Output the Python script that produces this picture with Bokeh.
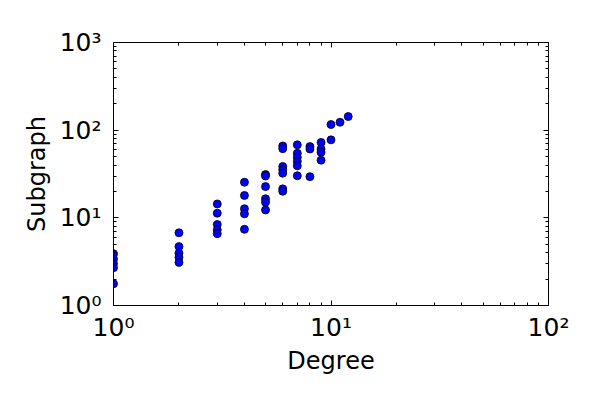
from bokeh.plotting import figure
from bokeh.models import LogAxis, FixedTicker, ColumnDataSource
from bokeh.embed import file_html
from bokeh.resources import INLINE

degree = [1, 1, 1, 1, 1,
          2, 2, 2, 2, 2,
          3, 3, 3, 3, 3,
          4, 4, 4, 4, 4,
          5, 5, 5, 5, 5, 5,
          6, 6, 6, 6, 6, 6, 6,
          7, 7, 7, 7, 7, 7,
          8, 8, 8,
          9, 9, 9, 9,
          10, 10, 11, 12]
subgraph = [3.9, 3.4, 3.0, 2.7, 1.77,
            6.75, 4.7, 3.95, 3.55, 3.1,
            14.4, 11.3, 8.4, 7.3, 6.6,
            25.5, 18.0, 12.7, 11.1, 7.4,
            31.2, 30.0, 22.7, 16.5, 15.1, 12.3,
            66.0, 61.5, 38.5, 35.3, 32.3, 21.4, 20.1,
            68.0, 54.5, 49.0, 44.0, 39.2, 30.2,
            65.0, 61.0, 29.5,
            72.5, 61.0, 56.0, 45.5,
            116.0, 77.5, 123.0, 143.0]

major_x = [1, 10, 100]
major_y = [1, 10, 100, 1000]
tick_labels_x = {1: "10⁰", 10: "10¹", 100: "10²"}
tick_labels_y = {1: "10⁰", 10: "10¹", 100: "10²", 1000: "10³"}

minor_x = [m * d for d in [1, 10] for m in range(2, 10)]
minor_y = [m * d for d in [1, 10, 100] for m in range(2, 10)]

FONT = "DejaVu Sans"

p = figure(x_axis_type="log", y_axis_type="log",
           x_range=(1, 100), y_range=(1, 1000),
           frame_width=435, frame_height=263,
           min_border_left=113, min_border_right=36,
           min_border_top=42, min_border_bottom=79,
           output_backend="svg", toolbar_location=None)
p.background_fill_color = "white"
p.border_fill_color = "white"
p.outline_line_color = "black"
p.outline_line_width = 1
p.grid.visible = False

src = ColumnDataSource(dict(x=degree, y=subgraph))
p.scatter("x", "y", source=src, size=8, fill_color="#0000ff",
          line_color="black", line_width=0.8)

def style(ax, ticks, minor, labels, show):
    ax.ticker = FixedTicker(ticks=ticks, minor_ticks=minor)
    ax.major_tick_in = 5
    ax.major_tick_out = 0
    ax.minor_tick_in = 3
    ax.minor_tick_out = 0
    ax.major_tick_line_color = "black"
    ax.minor_tick_line_color = "black"
    ax.axis_line_color = "black"
    if show:
        ax.major_label_overrides = labels
        ax.major_label_text_font = FONT
        ax.major_label_text_font_size = "25px"
        ax.major_label_text_color = "black"
        ax.axis_label_text_font = FONT
        ax.axis_label_text_font_size = "24px"
        ax.axis_label_text_font_style = "normal"
        ax.axis_label_text_color = "black"
    else:
        ax.major_label_text_font_size = "6px"
        ax.major_label_text_color = None
        ax.major_label_standoff = 0

xa = p.xaxis[0]
ya = p.yaxis[0]
style(xa, major_x, minor_x, tick_labels_x, True)
style(ya, major_y, minor_y, tick_labels_y, True)
xa.axis_label = "Degree"
ya.axis_label = "Subgraph"
xa.major_label_standoff = 7
ya.major_label_standoff = 12
xa.axis_label_standoff = 2
ya.axis_label_standoff = 6

top = LogAxis()
right = LogAxis()
style(top, major_x, minor_x, {}, False)
style(right, major_y, minor_y, {}, False)
p.add_layout(top, "above")
p.add_layout(right, "right")

open("out.html", "w").write(file_html(p, INLINE))
